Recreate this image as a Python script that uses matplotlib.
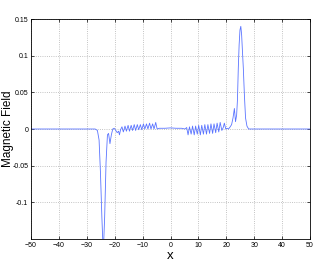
import matplotlib
matplotlib.use('Agg')
import matplotlib.pyplot as plt

plt.rcParams['font.family'] = ['Liberation Sans', 'DejaVu Sans']

# field profile
x_left = [-50, -27, -26.2, -25.6, -25.1, -24.6, -24.1, -23.6, -23.1, -22.6, -22.2, -21.7, -21.2, -20.7,
          -20.2, -19.6, -19.1, -18.6, -18.3, -17.9]
b_left = [0, 0, -0.002, -0.015, -0.06, -0.12, -0.17, -0.12, -0.045, -0.008, -0.006, -0.02, -0.008, 0.0,
          0.001, -0.002, -0.005, -0.003, -0.008, -0.001]

x_osc1 = [-17.4, -16.9, -16.3, -15.8, -15.2, -14.7, -14.1, -13.6, -13.0, -12.5, -11.9, -11.4, -10.8,
          -10.3, -9.7, -9.2, -8.6, -8.1, -7.5, -7.0, -6.4, -5.9, -5.3, -4.8]
b_osc1 = [0.003, -0.004, 0.004, -0.003, 0.005, -0.003, 0.005, -0.002, 0.006, -0.002, 0.006, -0.001,
          0.006, -0.001, 0.007, 0.0, 0.007, 0.0, 0.008, 0.0, 0.007, 0.0, 0.009, 0.0]

x_mid = [-4.0, -2.0, 0.0, 2.0, 4.0, 5.2]
b_mid = [0.001, 0.001, 0.0015, 0.001, 0.001, 0.0]

x_osc2 = [5.8, 6.3, 6.8, 7.4, 7.9, 8.5, 9.0, 9.6, 10.1, 10.7, 11.2, 11.8, 12.3, 12.9, 13.4, 14.0,
          14.5, 15.1, 15.6, 16.2, 16.7, 17.3, 17.8, 18.4, 18.9, 19.3, 19.8]
b_osc2 = [0.002, -0.008, 0.003, -0.007, 0.004, -0.008, 0.004, -0.007, 0.005, -0.008, 0.005, -0.007,
          0.006, -0.007, 0.006, -0.006, 0.007, -0.006, 0.007, -0.005, 0.008, -0.004, 0.009, -0.002,
          0.002, 0.008, 0.0]

x_right = [20.3, 20.8, 21.4, 21.9, 22.4, 22.9, 23.3, 23.7, 24.0, 24.3, 24.6, 24.9, 25.2, 25.5, 25.8,
           26.1, 26.5, 26.9, 27.4, 28.0, 50]
b_right = [0.001, 0.0, 0.003, 0.006, 0.015, 0.028, 0.01, 0.019, 0.04, 0.083, 0.115, 0.135, 0.14,
           0.128, 0.105, 0.083, 0.045, 0.015, 0.004, 0.0, 0]

xs = x_left + x_osc1 + x_mid + x_osc2 + x_right
bs = b_left + b_osc1 + b_mid + b_osc2 + b_right

dpi = 100
fig = plt.figure(figsize=(316 / dpi, 261 / dpi), dpi=dpi)
ax = fig.add_axes([31 / 316, 22 / 261, 279 / 316, 220 / 261])

ax.plot(xs, bs, color='#5a74ff', linewidth=0.6)

ax.set_xlim(-50, 50)
ax.set_ylim(-0.15, 0.15)
ax.set_xticks(range(-50, 51, 10))
ax.set_yticks([-0.1, -0.05, 0, 0.05, 0.1, 0.15])
ax.set_yticklabels(['-0.1', '-0.05', '0', '0.05', '0.1', '0.15'])
ax.tick_params(direction='in', length=2.5, width=0.5, labelsize=5, top=True, right=True, pad=2)
ax.grid(True, linestyle=':', color='#b0b0b0', linewidth=0.6)
for s in ax.spines.values():
    s.set_linewidth(0.6)

ax.set_xlabel('x', fontsize=9.5, labelpad=1)
ax.set_ylabel('Magnetic Field', fontsize=8.5)
ax.yaxis.set_label_coords(-0.06, 0.5)

fig.savefig('out.png', dpi=dpi)
